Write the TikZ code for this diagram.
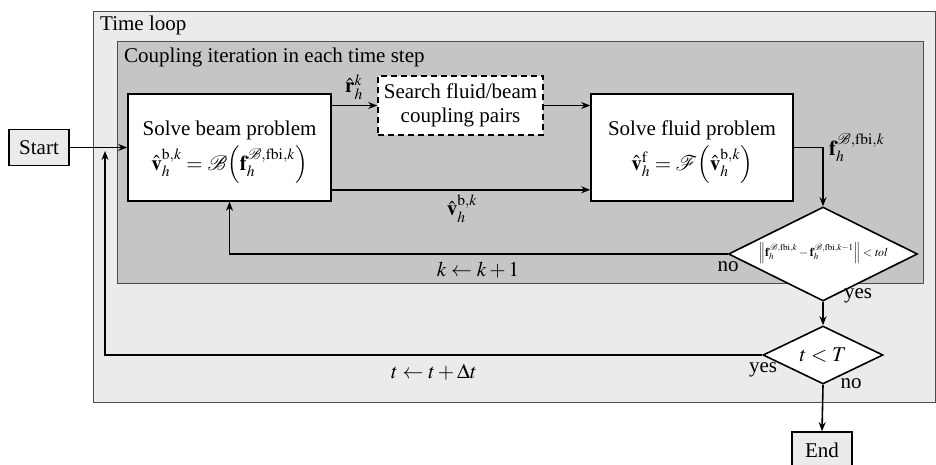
\documentclass[tikz,border=0pt]{standalone}
\usepackage{mathptmx}
\usepackage{fontspec}
\setmainfont{Liberation Serif}
\usetikzlibrary{shapes.geometric,arrows.meta,calc}
\begin{document}
\begin{tikzpicture}[x=1pt,y=-1pt,
  every node/.style={font=\fontsize{21}{24}\selectfont},
  arr/.style={line width=1.6pt,-{Stealth[length=9pt,width=7pt]}},
  procbox/.style={draw,line width=1.6pt,fill=white,inner sep=0pt,align=center},
  termbox/.style={draw,line width=1.6pt,fill=termgray,inner sep=0pt,minimum width=60pt,minimum height=36pt},
  decision/.style={draw,line width=1.6pt,fill=white,diamond,inner sep=0pt},
  lbl/.style={inner sep=0pt}
]
\definecolor{termgray}{HTML}{EBEBEB}
\definecolor{outergray}{HTML}{EBEBEB}
\definecolor{innergray}{HTML}{C4C5C4}
\useasboundingbox (0,0) rectangle (936,464);

% group boxes
\draw[fill=outergray,draw=black!70,line width=0.9pt] (93,11) rectangle (935.5,402);
\draw[fill=innergray,draw=black!70,line width=0.9pt] (117,41) rectangle (923,283);
\node[lbl,anchor=west] (tl) at (100,25) {Time loop};
\node[lbl,anchor=west] (ci) at (124,57) {Coupling iteration in each time step};

% nodes
\node[termbox] (start) at (39,147.5) {Start};
\node[procbox,minimum width=203pt,minimum height=107pt] (beam) at (229.5,147.5) {};
\node[lbl,anchor=base] (beamt) at (229.5,135) {Solve beam problem};
\node[lbl,anchor=base] (beamm) at (229.5,170)
  {$\hat{\mathbf{v}}_h^{\mathrm{b},k}=\mathcal{B}\Bigl(\mathbf{f}_h^{\mathcal{B},\mathrm{fbi},k}\Bigr)$};
\node[procbox,dash pattern=on 6pt off 4pt,minimum width=165pt,minimum height=59pt] (search) at (460.5,105.5)
  {Search fluid/beam\\coupling pairs};
\node[procbox,minimum width=202pt,minimum height=107pt] (fluid) at (692,147.5) {};
\node[lbl,anchor=base] (fluidt) at (692,135) {Solve fluid problem};
\node[lbl,anchor=base] (fluidm) at (692,170)
  {$\hat{\mathbf{v}}_h^{\mathrm{f}}=\mathcal{F}\Bigl(\hat{\mathbf{v}}_h^{\mathrm{b},k}\Bigr)$};
\node[decision,minimum width=189pt,minimum height=94pt,aspect=2] (d1) at (823,254) {};
\node[lbl,font=\fontsize{12}{14}\selectfont] (d1t) at (823,253)
  {$\left\|\mathbf{f}_h^{\mathcal{B},\mathrm{fbi},k}-\mathbf{f}_h^{\mathcal{B},\mathrm{fbi},k-1}\right\|<\mathit{tol}$};
\node[decision,minimum width=120pt,minimum height=58pt,aspect=2.07] (d2) at (823,355) {$t<T$};
\node[termbox] (end) at (822,450) {End};
\coordinate (j) at (105,151);

% connectors
\draw[arr] (start.east) -- (beam.west);
\draw[arr] (beam.east |- search.west) -- (search.west);
\draw[arr] (search.east) -- (search.east -| fluid.west);
\draw[arr] ([yshift=12pt]beam.south east) -- ([yshift=12pt]beam.south east -| fluid.west);
\draw[arr] (fluid.east) -| (d1.north);
\draw[arr] (d1.west) -| (beam.south);
\draw[arr] (d1.south) -- (d2.north);
\draw[arr] (d2.west) -| (j);
\draw[arr] (d2.south) -- (end.north);

% labels
\node[lbl] (rl) at (354,87) {$\hat{\mathbf{r}}_h^{k}$};
\node[lbl] (vl) at (462,209) {$\hat{\mathbf{v}}_h^{\mathrm{b},k}$};
\node[lbl,anchor=west] (fl) at (829,148) {$\mathbf{f}_h^{\mathcal{B},\mathrm{fbi},k}$};
\node[lbl] (kl) at (478,270) {$k\leftarrow k+1$};
\node[lbl] (no1) at (728,267) {no};
\node[lbl] (yes1) at (858,296) {yes};
\node[lbl] (tlb) at (434,372) {$t\leftarrow t+\Delta t$};
\node[lbl] (yes2) at (763,370) {yes};
\node[lbl] (no2) at (851,384) {no};
\end{tikzpicture}
\end{document}
